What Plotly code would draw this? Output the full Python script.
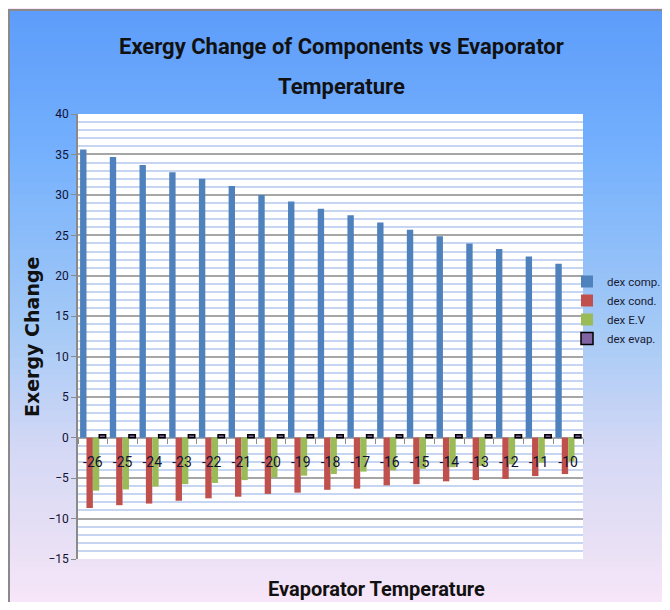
import plotly.graph_objects as go

temps = ["-26", "-25", "-24", "-23", "-22", "-21", "-20", "-19", "-18",
         "-17", "-16", "-15", "-14", "-13", "-12", "-11", "-10"]
dex_comp = [35.6, 34.7, 33.7, 32.8, 32.0, 31.1, 30.0, 29.2, 28.3,
            27.5, 26.6, 25.7, 24.9, 24.0, 23.3, 22.4, 21.5]
dex_cond = [-8.7, -8.35, -8.15, -7.8, -7.5, -7.3, -6.95, -6.8, -6.45,
            -6.3, -5.9, -5.75, -5.4, -5.25, -5.1, -4.75, -4.5]
dex_ev = [-6.55, -6.4, -6.05, -5.75, -5.6, -5.25, -4.9, -4.7, -4.5,
          -4.2, -4.05, -3.85, -3.65, -3.5, -3.3, -3.1, -2.95]
dex_evap = [0.35, 0.35, 0.35, 0.35, 0.35, 0.35, 0.35, 0.35, 0.35,
            0.35, 0.35, 0.35, 0.35, 0.35, 0.35, 0.35, 0.35]

OFF = 8  # page body margin
W, H = 670 - OFF, 610 - 2 * OFF
# plot area in reference-window pixels
PL, PR, PT, PB = 78, 583, 114, 559

FONT = "Roboto, Arial, sans-serif"


def px(x):
    return (x - PL) / (PR - PL)


def py(y):
    return (PB - y) / (PB - PT)


fig = go.Figure()
series = [
    ("dex comp.", dex_comp, "#4f81bd", "#4f81bd", 0),
    ("dex cond.", dex_cond, "#c0504d", "#c0504d", 0),
    ("dex E.V", dex_ev, "#9bbb59", "#9bbb59", 0),
    ("dex evap.", dex_evap, "#8064a2", "#000000", 1.5),
]
for name, vals, col, lc, lw in series:
    fig.add_trace(go.Bar(x=temps, y=vals, name=name,
                         marker=dict(color=col, line=dict(color=lc, width=lw))))

# background gradient strips
stops = [(9, (92, 156, 250)), (150, (116, 176, 253)), (330, (165, 202, 246)),
         (450, (212, 216, 245)), (540, (232, 224, 245)), (612, (250, 230, 250))]


def col_at(y):
    for (y0, c0), (y1, c1) in zip(stops[:-1], stops[1:]):
        if y0 <= y <= y1:
            t = (y - y0) / (y1 - y0)
            return "rgb(%d,%d,%d)" % tuple(round(a + (b - a) * t) for a, b in zip(c0, c1))
    return "rgb(%d,%d,%d)" % stops[-1][1]


shapes = []
step = 6
y = 9
while y < 612:
    shapes.append(dict(type="rect", xref="paper", yref="paper", layer="below",
                       x0=px(8), x1=px(680), y0=py(y), y1=py(min(y + step + 1, 612)),
                       fillcolor=col_at(y + step / 2), line=dict(width=0)))
    y += step
# white plot area
shapes.append(dict(type="rect", xref="paper", yref="paper", layer="below",
                   x0=0, x1=1, y0=0, y1=1, fillcolor="white", line=dict(width=0)))
# frame lines
shapes.append(dict(type="line", xref="paper", yref="paper", layer="below",
                   x0=px(9), x1=px(9), y0=py(9), y1=py(612), line=dict(color="#8a8a8a", width=2)))
shapes.append(dict(type="line", xref="paper", yref="paper", layer="below",
                   x0=px(8), x1=px(680), y0=py(10), y1=py(10), line=dict(color="#8a8a8a", width=2)))

fig.update_layout(
    width=W, height=H,
    margin=dict(l=PL - OFF, r=W - (PR - OFF), t=PT - OFF, b=H - (PB - OFF), autoexpand=False),
    paper_bgcolor="rgb(250,230,250)",
    plot_bgcolor="rgba(0,0,0,0)",
    barmode="group", bargap=0.14, bargroupgap=0,
    shapes=shapes,
    showlegend=True,
    legend=dict(xref="container", yref="container",
                x=(567 - OFF) / W, y=1 - (267 - OFF) / H, xanchor="left", yanchor="top",
                bgcolor="rgba(0,0,0,0)", font=dict(family=FONT, size=11.5, color="#1a1a33"),
                tracegroupgap=0, itemwidth=30),
    xaxis=dict(type="category", anchor="free", position=py(437.7),
               showline=False, showgrid=False, ticks="outside", tickson="boundaries",
               ticklen=5, tickcolor="#8a8a8a", ticklabelstandoff=14, tickangle=0,
               tickfont=dict(family=FONT, size=14, color="#111133")),
    yaxis=dict(range=[-15, 40], dtick=5, tick0=0, showgrid=True, gridcolor="#a6a6a6",
               gridwidth=1.5, zeroline=True, zerolinecolor="#a6a6a6", zerolinewidth=1.5,
               showline=True, linecolor="#8a8a8a", linewidth=1.5,
               ticks="outside", ticklen=5, tickcolor="#8a8a8a",
               tickfont=dict(family=FONT, size=12, color="#111133")),
    annotations=[
        dict(text="<b>Exergy Change of Components vs Evaporator</b>", xref="paper", yref="paper",
             x=px(341), y=py(47), showarrow=False, xanchor="center", yanchor="middle",
             font=dict(family=FONT, size=22, color="#111111")),
        dict(text="<b>Temperature</b>", xref="paper", yref="paper",
             x=px(341), y=py(86), showarrow=False, xanchor="center", yanchor="middle",
             font=dict(family=FONT, size=22, color="#111111")),
        dict(text="<b>Exergy Change</b>", xref="paper", yref="paper", x=px(32), y=py(337),
             textangle=-90, showarrow=False, xanchor="center", yanchor="middle",
             font=dict(family="DejaVu Sans", size=19, color="#111111")),
        dict(text="<b>Evaporator Temperature</b>", xref="paper", yref="paper", x=px(376), y=py(589),
             showarrow=False, xanchor="center", yanchor="middle",
             font=dict(family=FONT, size=20, color="#111111")),
    ],
)
fig.update_yaxes(minor=dict(dtick=1, showgrid=True, gridcolor="#c6d6f2", gridwidth=1.5))

fig.write_html("out.html")
